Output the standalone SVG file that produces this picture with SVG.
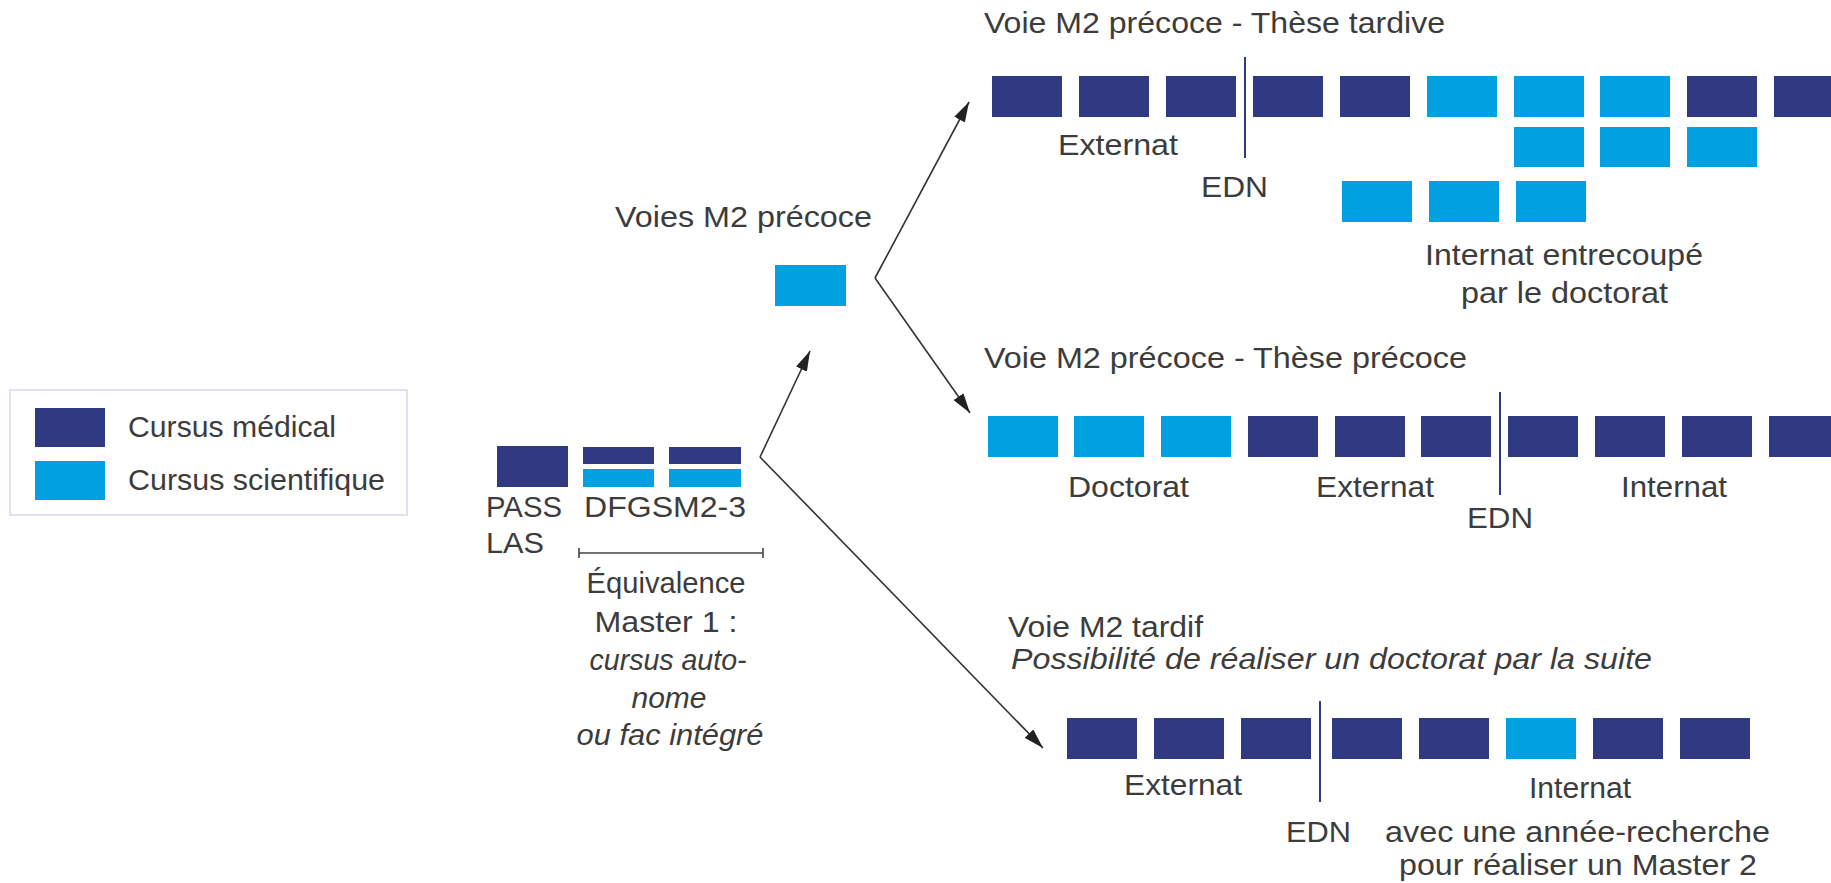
<svg xmlns="http://www.w3.org/2000/svg" width="1831" height="883" viewBox="0 0 1831 883">
<defs>
<style>
.med{fill:#2f3a82}
.sci{fill:#00a0e1}
.t{font-family:"Liberation Sans",Arial,sans-serif;font-size:30px;fill:#3c3c3c}
.c{text-anchor:middle}
.i{font-style:italic}
.edn{stroke:#2f3a82;stroke-width:2}
.con{stroke:#333;stroke-width:1.6;fill:none}
</style>
<marker id="ah" viewBox="0 0 20 12" refX="20" refY="6" markerWidth="20" markerHeight="12" markerUnits="userSpaceOnUse" orient="auto">
<path d="M0,0 L20,6 L0,12 Z" fill="#222"/>
</marker>
</defs>
<rect width="1831" height="883" fill="#fff"/>

<g id="legend">
<rect x="10" y="390" width="397" height="125" fill="#fff" stroke="#e0e0ee" stroke-width="2"/>
<rect class="med" x="35" y="408" width="70" height="39"/>
<rect class="sci" x="35" y="461" width="70" height="39"/>
<text class="t" x="128" y="437" textLength="208" lengthAdjust="spacingAndGlyphs">Cursus médical</text>
<text class="t" x="128" y="490" textLength="257" lengthAdjust="spacingAndGlyphs">Cursus scientifique</text>
</g>

<g id="start">
<rect class="med" x="497" y="446" width="71" height="41"/>
<rect class="med" x="583" y="447" width="71" height="17"/>
<rect class="sci" x="583" y="469" width="71" height="18"/>
<rect class="med" x="669" y="447" width="72" height="17"/>
<rect class="sci" x="669" y="469" width="72" height="18"/>
<text class="t" x="486" y="517" textLength="76" lengthAdjust="spacingAndGlyphs">PASS</text>
<text class="t" x="486" y="553" textLength="58" lengthAdjust="spacingAndGlyphs">LAS</text>
<text class="t" x="584" y="517" textLength="162" lengthAdjust="spacingAndGlyphs">DFGSM2-3</text>
<path d="M579,553 H763 M579,548 V558 M763,548 V558" stroke="#444" stroke-width="1.6" fill="none"/>
<text class="t c" x="666" y="593" textLength="159" lengthAdjust="spacingAndGlyphs">Équivalence</text>
<text class="t c" x="666" y="632" textLength="143" lengthAdjust="spacingAndGlyphs">Master 1 :</text>
<text class="t c i" x="668" y="670" textLength="157" lengthAdjust="spacingAndGlyphs">cursus auto-</text>
<text class="t c i" x="669" y="708" textLength="75" lengthAdjust="spacingAndGlyphs">nome</text>
<text class="t c i" x="670" y="745" textLength="187" lengthAdjust="spacingAndGlyphs">ou fac intégré</text>
</g>

<g id="m2precoce">
<text class="t" x="615" y="227" textLength="257" lengthAdjust="spacingAndGlyphs">Voies M2 précoce</text>
<rect class="sci" x="775" y="265" width="71" height="41"/>
</g>

<g id="these-tardive">
<text class="t" x="984" y="33" textLength="461" lengthAdjust="spacingAndGlyphs">Voie M2 précoce - Thèse tardive</text>
<rect class="med" x="992" y="76" width="70" height="41"/>
<rect class="med" x="1079" y="76" width="70" height="41"/>
<rect class="med" x="1166" y="76" width="70" height="41"/>
<rect class="med" x="1253" y="76" width="70" height="41"/>
<rect class="med" x="1340" y="76" width="70" height="41"/>
<rect class="sci" x="1427" y="76" width="70" height="41"/>
<rect class="sci" x="1514" y="76" width="70" height="41"/>
<rect class="sci" x="1600" y="76" width="70" height="41"/>
<rect class="med" x="1687" y="76" width="70" height="41"/>
<rect class="med" x="1774" y="76" width="70" height="41"/>
<rect class="sci" x="1514" y="127" width="70" height="40"/>
<rect class="sci" x="1600" y="127" width="70" height="40"/>
<rect class="sci" x="1687" y="127" width="70" height="40"/>
<rect class="sci" x="1342" y="181" width="70" height="41"/>
<rect class="sci" x="1429" y="181" width="70" height="41"/>
<rect class="sci" x="1516" y="181" width="70" height="41"/>
<line class="edn" x1="1245" y1="57" x2="1245" y2="158"/>
<text class="t" x="1058" y="155" textLength="120" lengthAdjust="spacingAndGlyphs">Externat</text>
<text class="t" x="1201" y="197" textLength="67" lengthAdjust="spacingAndGlyphs">EDN</text>
<text class="t" x="1425" y="265" textLength="278" lengthAdjust="spacingAndGlyphs">Internat entrecoupé</text>
<text class="t" x="1461" y="303" textLength="207" lengthAdjust="spacingAndGlyphs">par le doctorat</text>
</g>

<g id="these-precoce">
<text class="t" x="984" y="368" textLength="483" lengthAdjust="spacingAndGlyphs">Voie M2 précoce - Thèse précoce</text>
<rect class="sci" x="988" y="416" width="70" height="41"/>
<rect class="sci" x="1074" y="416" width="70" height="41"/>
<rect class="sci" x="1161" y="416" width="70" height="41"/>
<rect class="med" x="1248" y="416" width="70" height="41"/>
<rect class="med" x="1335" y="416" width="70" height="41"/>
<rect class="med" x="1421" y="416" width="70" height="41"/>
<rect class="med" x="1508" y="416" width="70" height="41"/>
<rect class="med" x="1595" y="416" width="70" height="41"/>
<rect class="med" x="1682" y="416" width="70" height="41"/>
<rect class="med" x="1769" y="416" width="70" height="41"/>
<line class="edn" x1="1500" y1="392" x2="1500" y2="495"/>
<text class="t" x="1068" y="497" textLength="121" lengthAdjust="spacingAndGlyphs">Doctorat</text>
<text class="t" x="1316" y="497" textLength="118" lengthAdjust="spacingAndGlyphs">Externat</text>
<text class="t" x="1621" y="497" textLength="106" lengthAdjust="spacingAndGlyphs">Internat</text>
<text class="t" x="1467" y="528" textLength="66" lengthAdjust="spacingAndGlyphs">EDN</text>
</g>

<g id="m2-tardif">
<text class="t" x="1008" y="637" textLength="195" lengthAdjust="spacingAndGlyphs">Voie M2 tardif</text>
<text class="t i" x="1011" y="669" textLength="641" lengthAdjust="spacingAndGlyphs">Possibilité de réaliser un doctorat par la suite</text>
<rect class="med" x="1067" y="718" width="70" height="41"/>
<rect class="med" x="1154" y="718" width="70" height="41"/>
<rect class="med" x="1241" y="718" width="70" height="41"/>
<rect class="med" x="1332" y="718" width="70" height="41"/>
<rect class="med" x="1419" y="718" width="70" height="41"/>
<rect class="sci" x="1506" y="718" width="70" height="41"/>
<rect class="med" x="1593" y="718" width="70" height="41"/>
<rect class="med" x="1680" y="718" width="70" height="41"/>
<line class="edn" x1="1320" y1="701" x2="1320" y2="802"/>
<text class="t" x="1124" y="795" textLength="118" lengthAdjust="spacingAndGlyphs">Externat</text>
<text class="t" x="1529" y="798" textLength="102" lengthAdjust="spacingAndGlyphs">Internat</text>
<text class="t" x="1286" y="842" textLength="65" lengthAdjust="spacingAndGlyphs">EDN</text>
<text class="t" x="1385" y="842" textLength="385" lengthAdjust="spacingAndGlyphs">avec une année-recherche</text>
<text class="t" x="1399" y="875" textLength="358" lengthAdjust="spacingAndGlyphs">pour réaliser un Master 2</text>
</g>

<g id="connectors">
<line class="con" x1="760" y1="457" x2="1043" y2="748" marker-end="url(#ah)"/>
<line class="con" x1="760" y1="457" x2="810" y2="351" marker-end="url(#ah)"/>
<line class="con" x1="875" y1="278" x2="969" y2="102" marker-end="url(#ah)"/>
<line class="con" x1="875" y1="278" x2="970" y2="413" marker-end="url(#ah)"/>
</g>
</svg>
